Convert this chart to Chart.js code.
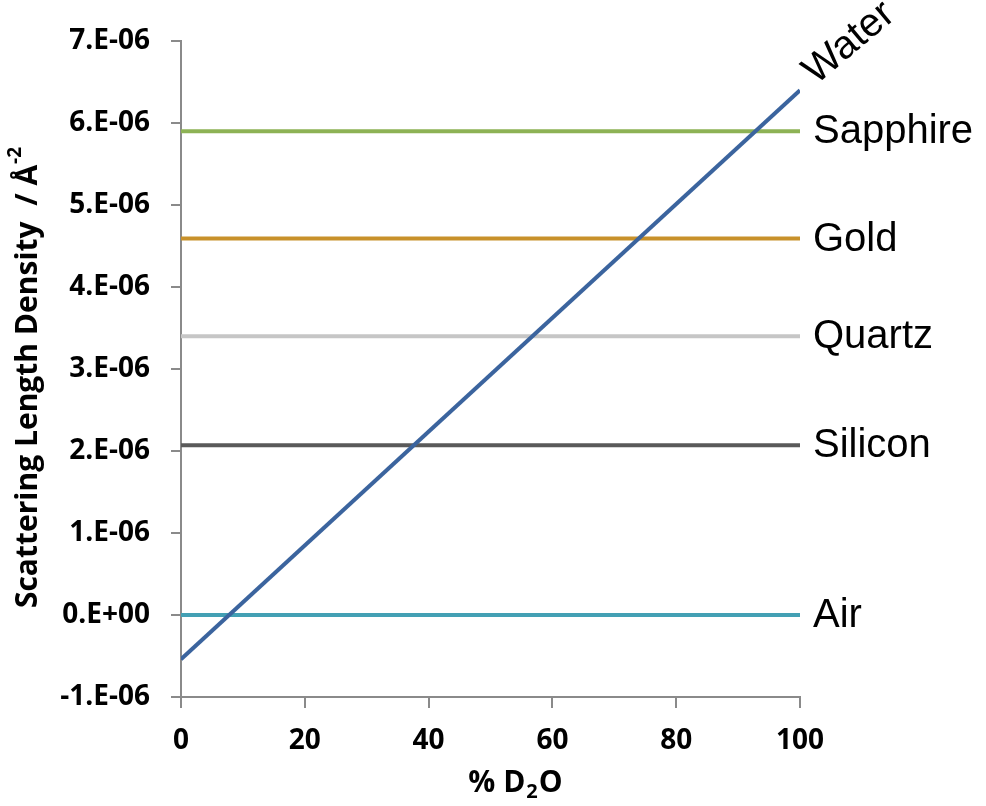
<!DOCTYPE html>
<html><head><meta charset="utf-8">
<script src="https://cdn.jsdelivr.net/npm/chart.js@4/dist/chart.umd.min.js"></script>
<style>html,body{margin:0;padding:0;background:#fff}#wrap{width:986px;height:806px}</style>
</head><body><div id="wrap"><canvas id="c" width="986" height="806"></canvas></div>
<script>
// ---- data ----
const xMin = 0, xMax = 100, xStep = 20;
const yMin = -1e-6, yMax = 7e-6, yStep = 1e-6;
const waterX = [0, 100];
const waterY = [-0.54e-6, 6.4e-6];
const materials = ['Sapphire', 'Gold', 'Quartz', 'Silicon', 'Air'];
const materialSLD = [5.9e-6, 4.59e-6, 3.4e-6, 2.07e-6, 0];
const materialColors = ['#8DB255', '#C8912A', '#C6C6C6', '#5A5A5A', '#43A0B4'];
const waterColor = '#3B649E';
const yTitle = 'Scattering Length Density  / Å';
const yTitleSup = '-2';
const xTitleParts = ['% D', '2', 'O'];

function fmtSci(v) {
  if (Math.abs(v) < 1e-15) return '0.E+00';
  const e = Math.floor(Math.log10(Math.abs(v)) + 1e-9);
  const m = Math.round(v / Math.pow(10, e));
  const es = (e < 0 ? '-' : '+') + String(Math.abs(e)).padStart(2, '0');
  return m + '.E' + es;
}

const datasets = [{
  label: 'Water',
  data: waterX.map((x, i) => ({x, y: waterY[i]})),
  borderColor: waterColor, borderWidth: 4, pointRadius: 0, tension: 0
}];
materials.forEach((m, i) => {
  datasets.push({
    label: m,
    data: [{x: xMin, y: materialSLD[i]}, {x: xMax, y: materialSLD[i]}],
    borderColor: materialColors[i], borderWidth: 4, pointRadius: 0, tension: 0
  });
});

const labelPlugin = {
  id: 'labels',
  afterDatasetsDraw(chart) {
    const ctx = chart.ctx, ca = chart.chartArea;
    const xs = chart.scales.x, ys = chart.scales.y;
    ctx.save();
    ctx.fillStyle = '#000';
    ctx.font = '40px "Liberation Sans", Arial, sans-serif';
    ctx.textBaseline = 'middle';
    ctx.textAlign = 'left';
    materials.forEach((m, i) => {
      ctx.fillText(m, ca.right + 13, ys.getPixelForValue(materialSLD[i]) + 1);
    });
    // Water label, rotated
    const px = xs.getPixelForValue(waterX[1]);
    const py = ys.getPixelForValue(waterY[1]);
    ctx.translate(px + 16, py - 5);
    ctx.rotate(-40 * Math.PI / 180);
    ctx.textBaseline = 'alphabetic';
    ctx.fillText('Water', 0, 0);
    ctx.restore();

    // y axis title
    ctx.save();
    ctx.fillStyle = '#000';
    const f = 'bold 30px "Open Sans", sans-serif';
    const fs = 'bold 19px "Open Sans", sans-serif';
    ctx.font = f;
    const w1 = ctx.measureText(yTitle).width;
    ctx.font = fs;
    const w2 = ctx.measureText(yTitleSup).width;
    const cy = (ca.top + ca.bottom) / 2 + 9;
    ctx.translate(28, cy);
    ctx.rotate(-Math.PI / 2);
    ctx.textBaseline = 'middle';
    ctx.textAlign = 'left';
    const start = -(w1 + w2) / 2;
    ctx.font = f;
    ctx.fillText(yTitle, start, 0);
    ctx.font = fs;
    ctx.fillText(yTitleSup, start + w1 + 1, -12);
    ctx.restore();

    // x axis title
    ctx.save();
    ctx.fillStyle = '#000';
    ctx.textBaseline = 'middle';
    ctx.textAlign = 'left';
    const fx = 'bold 30px "Open Sans", sans-serif';
    const fxs = 'bold 20px "Open Sans", sans-serif';
    ctx.font = fx; const a = ctx.measureText(xTitleParts[0]).width;
    ctx.font = fxs; const b = ctx.measureText(xTitleParts[1]).width;
    ctx.font = fx; const c = ctx.measureText(xTitleParts[2]).width;
    const cx = (ca.left + ca.right) / 2 + 24;
    let x0 = cx - (a + b + c) / 2;
    const ty = 783;
    ctx.font = fx; ctx.fillText(xTitleParts[0], x0, ty);
    ctx.font = fxs; ctx.fillText(xTitleParts[1], x0 + a + 1, ty + 9);
    ctx.font = fx; ctx.fillText(xTitleParts[2], x0 + a + b + 2, ty);
    ctx.restore();
  }
};

new Chart(document.getElementById('c'), {
  type: 'line',
  data: {datasets},
  options: {
    responsive: false,
    animation: false,
    devicePixelRatio: 1,
    layout: {padding: {top: 41, right: 186, left: 0, bottom: 0}},
    plugins: {legend: {display: false}, tooltip: {enabled: false}},
    scales: {
      x: {
        type: 'linear', min: xMin, max: xMax,
        ticks: {stepSize: xStep, color: '#000', padding: 16,
                font: {family: '"Open Sans", sans-serif', weight: 'bold', size: 28}},
        grid: {drawOnChartArea: false, drawTicks: true, tickLength: 11, color: '#8a8a8a', lineWidth: 2},
        border: {color: '#8a8a8a', width: 2},
        afterFit(s) { s.height = 109; }
      },
      y: {
        type: 'linear', min: yMin, max: yMax,
        ticks: {stepSize: yStep, color: '#000', padding: 21,
                callback: (v) => fmtSci(v),
                font: {family: '"Open Sans", sans-serif', weight: 'bold', size: 28}},
        grid: {drawOnChartArea: false, drawTicks: true, tickLength: 10, color: '#8a8a8a', lineWidth: 2},
        border: {color: '#8a8a8a', width: 2},
        afterFit(s) { s.width = 181; }
      }
    }
  },
  plugins: [labelPlugin]
});
</script>
</body></html>
